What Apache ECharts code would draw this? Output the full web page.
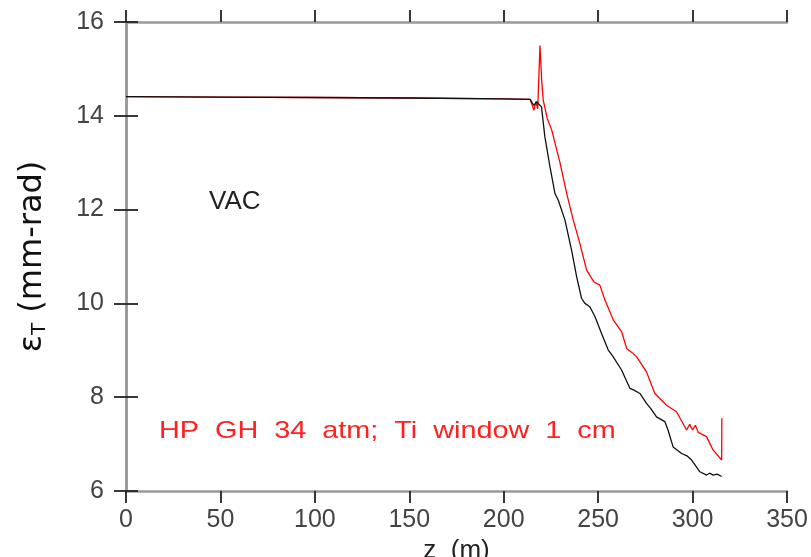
<!DOCTYPE html>
<html>
<head>
<meta charset="utf-8">
<script src="https://cdn.jsdelivr.net/npm/echarts@6/dist/echarts.min.js"></script>
<style>html,body{margin:0;padding:0;background:#fff;}#c{width:811px;height:557px;}</style>
</head>
<body>
<div id="c"></div>
<script>
var xTicks = [0, 50, 100, 150, 200, 250, 300, 350];
var yTicks = [6, 8, 10, 12, 14, 16];

var zBlack = [0, 50, 100, 150, 200, 214, 216, 217.5, 218.5, 220, 221.8, 224.5, 227.1, 228.9, 232.4, 235.9, 238.6, 241.2, 243, 245.6, 248.3, 251.8, 255.3, 258, 262.4, 266.8, 269, 272.1, 275.6, 278, 280.9, 285.3, 287, 289.7, 294.2, 297, 299.5, 303.9, 307.4, 309, 310.9, 313, 315.4];
var vBlack = [14.41, 14.40, 14.39, 14.38, 14.36, 14.35, 14.22, 14.30, 14.25, 14.19, 13.55, 12.91, 12.35, 12.20, 11.78, 11.14, 10.57, 10.11, 10.00, 9.93, 9.72, 9.36, 9.01, 8.86, 8.58, 8.19, 8.15, 8.08, 7.87, 7.75, 7.58, 7.48, 7.30, 6.94, 6.80, 6.75, 6.66, 6.41, 6.34, 6.38, 6.34, 6.36, 6.31];

var zRed = [0, 50, 100, 150, 200, 214, 216, 217, 218, 219.2, 220.1, 220.9, 223, 225.4, 229.8, 233.3, 236.8, 240.3, 243.9, 246.5, 248, 250.9, 253.6, 258, 262.4, 265.1, 268, 270.4, 275.6, 280, 286.2, 291.5, 296.8, 298.5, 300, 301.5, 303, 307.4, 310.9, 315.4, 315.5];
var vRed = [14.41, 14.40, 14.39, 14.38, 14.36, 14.35, 14.12, 14.30, 14.15, 15.50, 14.76, 14.34, 13.95, 13.70, 13.00, 12.35, 11.78, 11.28, 10.71, 10.54, 10.45, 10.39, 10.07, 9.65, 9.40, 9.04, 8.95, 8.86, 8.54, 8.08, 7.83, 7.69, 7.30, 7.42, 7.30, 7.40, 7.25, 7.16, 6.87, 6.66, 7.55];

function pairs(zs, vs) { return zs.map(function (z, i) { return [z, vs[i]]; }); }

var chart = echarts.init(document.getElementById('c'), null, {renderer: 'canvas'});
var axisLine = {show: true, lineStyle: {color: '#999', width: 2.5}};
var axisTick = {show: true, inside: false, length: 12, lineStyle: {color: '#222', width: 1.8}};
var labelStyle = {fontFamily: 'Liberation Sans', fontSize: 25, color: '#444'};

chart.setOption({
  backgroundColor: '#fff',
  animation: false,
  grid: {left: 126, right: 24, top: 22, bottom: 66, containLabel: false, outerBoundsMode: 'none'},
  xAxis: [{
    type: 'value', min: xTicks[0], max: xTicks[xTicks.length - 1], interval: 50,
    position: 'bottom', axisLine: axisLine, axisTick: axisTick, splitLine: {show: false},
    axisLabel: Object.assign({margin: 17}, labelStyle),
    name: 'z  (m)', nameLocation: 'middle', nameGap: 40,
    nameTextStyle: {fontFamily: 'Liberation Sans', fontSize: 26, color: '#222'}
  }, {
    type: 'value', min: xTicks[0], max: xTicks[xTicks.length - 1], interval: 50,
    position: 'top', axisLine: axisLine, axisTick: axisTick, splitLine: {show: false},
    axisLabel: {show: false}
  }],
  yAxis: [{
    type: 'value', min: yTicks[0], max: yTicks[yTicks.length - 1], interval: 2,
    position: 'left', axisLine: axisLine, axisTick: axisTick, splitLine: {show: false},
    axisLabel: Object.assign({margin: 22}, labelStyle),
    name: '{e|ε}{s|T}{e| (mm-rad)}', nameLocation: 'middle', nameGap: 76, nameRotate: 90,
    nameTextStyle: {
      rich: {
        e: {fontFamily: 'DejaVu Sans', fontSize: 32, color: '#111'},
        s: {fontFamily: 'DejaVu Sans', fontSize: 20, color: '#111', verticalAlign: 'bottom', padding: [14, 0, 0, 0]}
      }
    }
  }, {
    type: 'value', min: yTicks[0], max: yTicks[yTicks.length - 1], interval: 2,
    position: 'right', axisLine: axisLine, axisTick: axisTick, splitLine: {show: false},
    axisLabel: {show: false}
  }],
  graphic: [
    {type: 'text', x: 209, y: 189, style: {text: 'VAC', fontFamily: 'Liberation Sans', fontSize: 26, fill: '#222'}},
    {type: 'text', x: 159, y: 419, scaleX: 1.2, style: {text: 'HP  GH  34  atm;  Ti  window  1  cm', fontFamily: 'Liberation Sans', fontSize: 24, fill: '#ff2020'}}
  ],
  series: [
    {type: 'line', data: pairs(zRed, vRed), showSymbol: false, lineStyle: {color: '#ff0000', width: 1.3}, z: 2},
    {type: 'line', data: pairs(zBlack, vBlack), showSymbol: false, lineStyle: {color: '#111', width: 1.3}, z: 3}
  ]
});
</script>
</body>
</html>
